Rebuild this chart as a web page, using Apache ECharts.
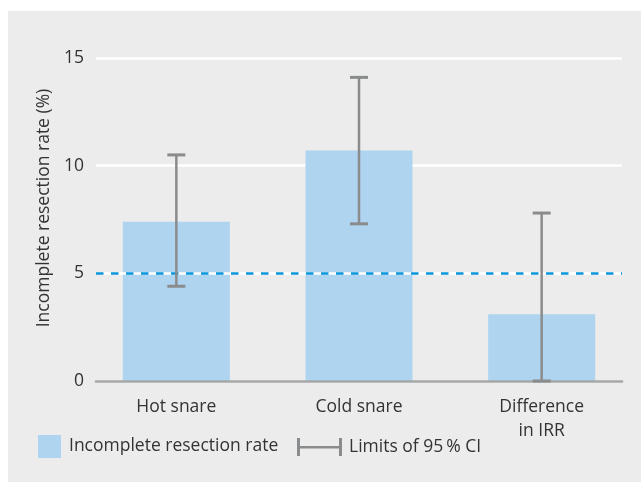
<!DOCTYPE html>
<html>
<head>
<meta charset="utf-8">
<script src="https://cdn.jsdelivr.net/npm/echarts@6/dist/echarts.min.js"></script>
<style>
html,body{margin:0;padding:0;background:#fff;}
#c{width:641px;height:483px;}
</style>
</head>
<body>
<div id="c"></div>
<script>
const categories = ['Hot snare', 'Cold snare', 'Difference\nin IRR'];
const rates = [7.4, 10.7, 3.1];
const ciLow = [4.4, 7.3, 0];
const ciHigh = [10.5, 14.1, 7.8];
const yMin = 0, yMax = 15, yInterval = 5;
const threshold = 5;
const barName = 'Incomplete resection rate';
const ciName = 'Limits of 95\u2009% CI';

const FONT = 'Open Sans';
const FS = 17.5;
const TXT = '#333333';
const chart = echarts.init(document.getElementById('c'));
const errData = categories.map((c, i) => [i, ciLow[i], ciHigh[i]]);

chart.setOption({
  animation: false,
  textStyle: {fontFamily: FONT},
  graphic: [{type: 'rect', z: -10, silent: true, shape: {x: 8, y: 11, width: 633, height: 471}, style: {fill: '#ebeceb'}}],
  grid: [
    {left: 96, right: 19, top: 58, bottom: 102},
    {left: 85, right: 8, top: 58, bottom: 102}
  ],
  xAxis: [
    {gridIndex: 0, type: 'category', data: categories, z: 3,
     axisLine: {show: true, lineStyle: {color: '#a5a6a6', width: 2.5}},
     axisTick: {show: false}, axisLabel: {show: false}, splitLine: {show: false}},
    {gridIndex: 1, type: 'category', data: categories,
     axisLine: {show: false}, axisTick: {show: false},
     axisLabel: {color: TXT, fontSize: FS, fontFamily: FONT, margin: 14, lineHeight: 24}}
  ],
  yAxis: [
    {gridIndex: 0, type: 'value', min: yMin, max: yMax, interval: yInterval,
     name: 'Incomplete resection rate (%)', nameLocation: 'middle', nameGap: 40,
     nameTextStyle: {color: TXT, fontSize: FS, fontFamily: FONT, padding: [0, 0, 0, 23]},
     axisLine: {show: false}, axisTick: {show: false},
     axisLabel: {color: TXT, fontSize: FS, fontFamily: FONT, margin: 12},
     splitLine: {show: true, lineStyle: {color: '#ffffff', width: 2.5}}},
    {gridIndex: 1, type: 'value', min: yMin, max: yMax, interval: yInterval, show: false,
     splitLine: {show: false}}
  ],
  legend: [
    {data: [{name: barName, icon: 'rect'}], left: 38, top: 435, padding: 0, itemWidth: 23, itemHeight: 23,
     itemGap: 0, selectedMode: false,
     textStyle: {color: TXT, fontSize: FS, fontFamily: FONT, padding: [4, 0, 0, 3]}},
    {data: [{name: ciName, icon: 'path://M0,0h3v18h-3zM0,8h45v2.5h-45zM42,0h3v18h-3z'}],
     left: 297, top: 438, padding: 0, itemWidth: 45, itemHeight: 18, itemGap: 0, selectedMode: false,
     textStyle: {color: TXT, fontSize: FS, fontFamily: FONT, padding: [4, 0, 0, 2]}}
  ],
  series: [
    {name: barName, type: 'bar', xAxisIndex: 1, yAxisIndex: 1, data: rates, barWidth: 107,
     itemStyle: {color: '#aed4f0'}, z: 2},
    {name: 'threshold', type: 'line', xAxisIndex: 0, yAxisIndex: 0, data: [], z: 3,
     markLine: {silent: true, symbol: 'none', label: {show: false}, z: 3,
       data: [
         {yAxis: threshold, lineStyle: {color: '#ffffff', type: 'solid', width: 2.5}},
         {yAxis: threshold, lineStyle: {color: '#0a96dc', type: [7.5, 7.5], width: 2.5}}
       ]}},
    {name: ciName, type: 'custom', xAxisIndex: 1, yAxisIndex: 1, data: errData, z: 4,
     itemStyle: {color: '#8a8b8d'},
     encode: {x: 0, y: [1, 2]},
     renderItem: function (params, api) {
       const i = api.value(0);
       const lo = api.coord([i, api.value(1)]);
       const hi = api.coord([i, api.value(2)]);
       const hw = 9;
       const st = {stroke: '#8a8b8d', lineWidth: 2.5, fill: null};
       return {type: 'group', children: [
         {type: 'line', shape: {x1: lo[0], y1: lo[1], x2: hi[0], y2: hi[1]}, style: st},
         {type: 'line', shape: {x1: lo[0] - hw, y1: lo[1], x2: lo[0] + hw, y2: lo[1]}, style: Object.assign({}, st, {lineWidth: 3})},
         {type: 'line', shape: {x1: hi[0] - hw, y1: hi[1], x2: hi[0] + hw, y2: hi[1]}, style: Object.assign({}, st, {lineWidth: 3})}
       ]};
     }}
  ]
});
</script>
</body>
</html>
